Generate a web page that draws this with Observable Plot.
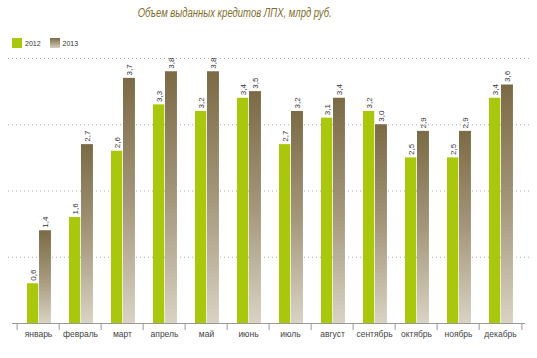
<!DOCTYPE html>
<html><head><meta charset="utf-8">
<script src="https://cdn.jsdelivr.net/npm/d3@7"></script>
<script src="https://cdn.jsdelivr.net/npm/@observablehq/plot@0.6"></script>
<style>
body{margin:0;background:#fff;width:537px;height:358px;position:relative;overflow:hidden;font-family:"Liberation Sans","DejaVu Sans",sans-serif;}
#title{position:absolute;left:0;top:6px;width:470px;text-align:center;font-style:italic;font-size:12.5px;color:#7f6d2c;}
#title span{display:inline-block;transform:scaleX(0.76);transform-origin:center;white-space:nowrap;}
#legend{position:absolute;left:12px;top:38px;font-size:7px;color:#333;display:flex;align-items:center;}
.sw{width:10px;height:10px;display:inline-block;margin-right:3px;}
.lab{margin-right:9px;}
#chart{position:absolute;left:0;top:52px;}
</style></head>
<body>
<div id="title"><span>Объем выданных кредитов ЛПХ, млрд руб.</span></div>
<div id="legend"><span class="sw" style="background:#a9c70c"></span><span class="lab">2012</span><span class="sw" style="background:linear-gradient(#7b6a45,#d6cfbe)"></span><span class="lab">2013</span></div>
<div id="chart"></div>
<script>
const months = ["январь","февраль","март","апрель","май","июнь","июль","август","сентябрь","октябрь","ноябрь","декабрь"];
const v2012 = [0.6,1.6,2.6,3.3,3.2,3.4,2.7,3.1,3.2,2.5,2.5,3.4];
const v2013 = [1.4,2.7,3.7,3.8,3.8,3.5,3.2,3.4,3.0,2.9,2.9,3.6];
const gridValues = [1,2,3,4];

const W = 537, ML = 12, MR = 12;
const bw = (W - ML - MR) / months.length;
const d12 = months.map((m,i)=>({month:m, v:v2012[i]}));
const d13 = months.map((m,i)=>({month:m, v:v2013[i]}));
const fmt = v => v.toFixed(1).replace(".", ",");

const svg = Plot.plot({
  width: W, height: 306, marginTop: 6, marginBottom: 35, marginLeft: ML, marginRight: MR,
  style: {fontFamily: '"Liberation Sans","DejaVu Sans",sans-serif', fontSize: "8.5px", color: "#444", background: "#fff"},
  x: {domain: months, padding: 0, label: null, tickSize: 0, tickPadding: 7},
  y: {domain: [0, 4], axis: null},
  marks: [
    Plot.ruleY(gridValues, {stroke: "#aaa", strokeDasharray: "1,3", insetLeft: -4, insetRight: -5}),
    Plot.barY(d12, {x: "month", y: "v", fill: "#a9c70c", insetLeft: 10, insetRight: bw - 22}),
    Plot.barY(d13, {x: "month", y: "v", fill: "url(#g2013)", insetLeft: 22, insetRight: bw - 34.7}),
    Plot.text(d12, {x: "month", y: "v", text: d => fmt(d.v), rotate: -90, textAnchor: "start", dx: -5.4, dy: -3, fontSize: 8, fill: "#333"}),
    Plot.text(d13, {x: "month", y: "v", text: d => fmt(d.v), rotate: -90, textAnchor: "start", dx: 7, dy: -3, fontSize: 8, fill: "#333"}),
    Plot.ruleY([0], {stroke: "#999"}),
    Plot.ruleX(months, {x: d => d, y1: 0, y2: 0, insetBottom: -7, dx: -bw/2, stroke: "#999"}),
    Plot.ruleX([months[months.length-1]], {x: d => d, y1: 0, y2: 0, insetBottom: -7, dx: bw/2, stroke: "#999"})
  ]
});
d3.select(svg).insert("defs", ":first-child").html(
  '<linearGradient id="g2013" x1="0" y1="0" x2="0" y2="1"><stop offset="0" stop-color="#7b6a45"/><stop offset="0.5" stop-color="#a3967a"/><stop offset="1" stop-color="#d9d3c4"/></linearGradient>'
);
document.getElementById("chart").appendChild(svg);
</script>
</body></html>
